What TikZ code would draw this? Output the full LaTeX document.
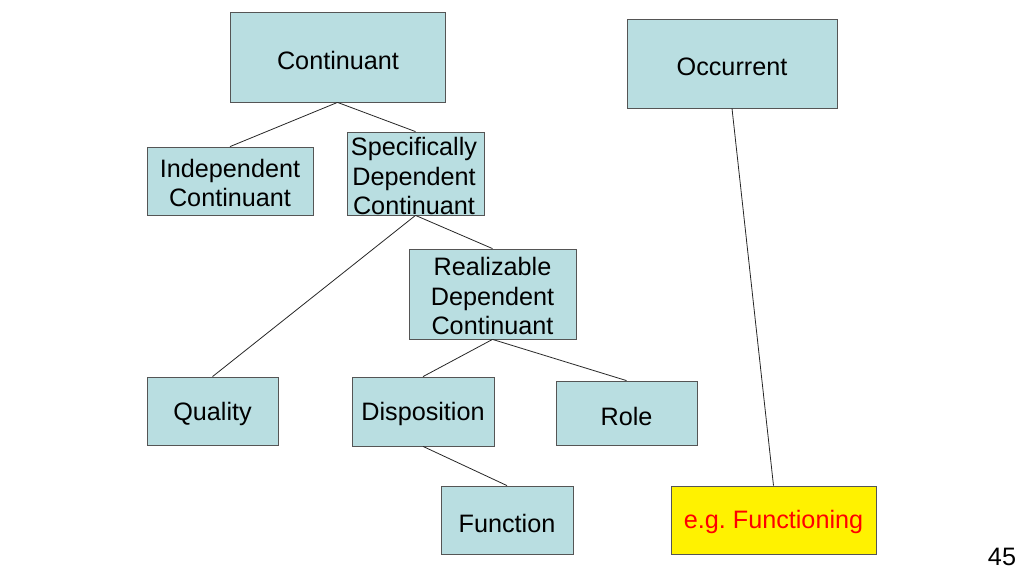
\documentclass[tikz,border=0pt]{standalone}
\usepackage{fontspec}
\setmainfont{Liberation Sans}
\definecolor{boxfill}{HTML}{B9DEE1}
\definecolor{boxline}{HTML}{555555}
\begin{document}
\begin{tikzpicture}[x=1bp,y=-1bp,
  box/.style={draw=boxline, line width=0.8bp, fill=boxfill, inner sep=0pt, anchor=center},
  txt/.style={inner sep=0pt, align=center, font=\fontsize{25.3}{30}\selectfont, text=black},
  link/.style={draw=black!85, line width=0.8bp}]
\useasboundingbox (0,0) rectangle (1024,576);
\node[box, minimum width=215bp, minimum height=90bp] (cont) at (337.5,57) {};
\node[txt] (contt) at (338,60) {Continuant};
\node[box, minimum width=210bp, minimum height=89bp] (occ) at (732,63.5) {};
\node[txt] (occt) at (732,67) {Occurrent};
\node[box, minimum width=166bp, minimum height=68bp] (ind) at (230,181) {};
\node[txt] (indt) at (230,183) {Independent\\Continuant};
\node[box, minimum width=137bp, minimum height=83bp] (sdc) at (415.5,173.5) {};
\node[txt] (sdct) at (414,176) {Specifically\\Dependent\\Continuant};
\node[box, minimum width=167bp, minimum height=90bp] (rdc) at (492.5,294) {};
\node[txt] (rdct) at (492.5,296) {Realizable\\Dependent\\Continuant};
\node[box, minimum width=131bp, minimum height=68bp] (qual) at (212.5,411) {};
\node[txt] (qualt) at (212.5,414) {Quality};
\node[box, minimum width=142bp, minimum height=69bp] (disp) at (423,411.5) {};
\node[txt] (dispt) at (423,414) {Disposition};
\node[box, minimum width=141bp, minimum height=64bp] (role) at (626.5,413) {};
\node[txt] (rolet) at (626.5,416) {Role};
\node[box, minimum width=132bp, minimum height=68bp] (func) at (507,520) {};
\node[txt] (funct) at (507,523) {Function};
\node[box, fill=yellow, minimum width=205bp, minimum height=68bp] (egf) at (773.5,520) {};
\node[txt, text=red] (egft) at (773.5,522) {e.g.\ Functioning};
\node[txt] (pnum) at (1002,557) {45};
\draw[link] (cont.south) -- (ind.north);
\draw[link] (cont.south) -- (sdc.north);
\draw[link] (sdc.south) -- (qual.north);
\draw[link] (sdc.south) -- (rdc.north);
\draw[link] (rdc.south) -- (disp.north);
\draw[link] (rdc.south) -- (role.north);
\draw[link] (disp.south) -- (func.north);
\draw[link] (occ.south) -- (egf.north);
\end{tikzpicture}
\end{document}
